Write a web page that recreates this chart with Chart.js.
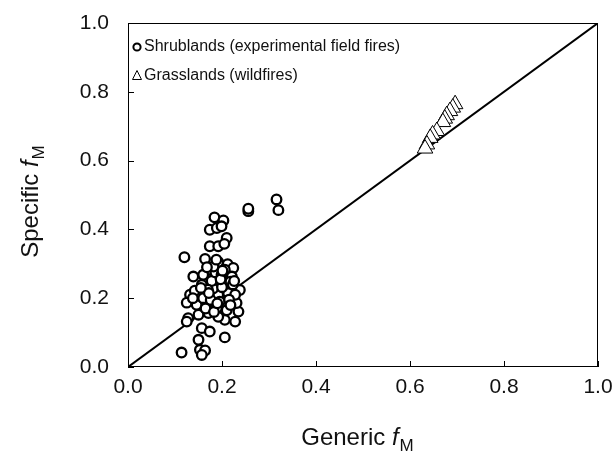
<!DOCTYPE html>
<html>
<head>
<meta charset="utf-8">
<script src="https://cdn.jsdelivr.net/npm/chart.js@4.4.1/dist/chart.umd.min.js"></script>
<style>
    html, body { margin: 0; padding: 0; background: #fff; }
    #wrap { width: 616px; height: 455px; }
</style>
</head>
<body>
<div id="wrap"><canvas id="chart" width="616" height="455"></canvas></div>
<script>
// Shrublands (experimental field fires): generic fM vs specific fM
const shrubX = [0.184, 0.203, 0.174, 0.189, 0.199, 0.210, 0.174, 0.192, 0.205, 0.120,
    0.164, 0.192, 0.212, 0.224, 0.171, 0.160, 0.139, 0.206, 0.221, 0.185,
    0.196, 0.231, 0.182, 0.157, 0.132, 0.125, 0.146, 0.171, 0.150, 0.206,
    0.235, 0.231, 0.128, 0.125, 0.228, 0.157, 0.174, 0.206, 0.150, 0.114,
    0.153, 0.164, 0.157, 0.192, 0.213, 0.167, 0.189, 0.206, 0.238, 0.181,
    0.164, 0.192, 0.146, 0.178, 0.200, 0.218, 0.170, 0.186, 0.228, 0.160,
    0.195, 0.210, 0.176, 0.142, 0.182, 0.199, 0.223, 0.188, 0.165, 0.215,
    0.172, 0.197, 0.155, 0.218, 0.183, 0.138, 0.226, 0.168, 0.201, 0.190,
    0.256, 0.256, 0.316, 0.320];
const shrubY = [0.435, 0.426, 0.399, 0.404, 0.409, 0.375, 0.351, 0.351, 0.358, 0.319,
    0.314, 0.305, 0.299, 0.288, 0.283, 0.268, 0.263, 0.283, 0.263, 0.263,
    0.239, 0.224, 0.210, 0.239, 0.210, 0.187, 0.184, 0.157, 0.152, 0.186,
    0.161, 0.186, 0.142, 0.132, 0.132, 0.113, 0.103, 0.086, 0.079, 0.042,
    0.050, 0.048, 0.035, 0.210, 0.215, 0.205, 0.171, 0.137, 0.224, 0.228,
    0.181, 0.146, 0.181, 0.250, 0.232, 0.248, 0.225, 0.275, 0.210, 0.200,
    0.190, 0.165, 0.195, 0.222, 0.292, 0.268, 0.240, 0.312, 0.170, 0.196,
    0.215, 0.255, 0.230, 0.180, 0.160, 0.200, 0.250, 0.290, 0.280, 0.185,
    0.453, 0.460, 0.487, 0.456];

// Grasslands (wildfires)
const grassX = [0.696, 0.691, 0.685, 0.678, 0.674, 0.670, 0.657, 0.648, 0.643, 0.636, 0.632];
const grassY = [0.764, 0.754, 0.744, 0.732, 0.722, 0.712, 0.686, 0.676, 0.666, 0.647, 0.635];

// 1:1 line
const lineX = [0, 1];
const lineY = [0, 1];

const axisTicks = [0, 0.2, 0.4, 0.6, 0.8, 1.0];
const legendLabels = ["Shrublands (experimental field fires)", "Grasslands (wildfires)"];

function toPoints(xs, ys) {
    return xs.map(function (x, i) { return { x: x, y: ys[i] }; });
}

const FONT = "'Liberation Sans', Arial, sans-serif";

// box, inward ticks, axis titles, legend
const decorations = {
    id: "decorations",
    afterDraw: function (chart) {
        var ctx = chart.ctx;
        var a = chart.chartArea;
        var xs = chart.scales.x;
        var ys = chart.scales.y;
        ctx.save();
        ctx.strokeStyle = "#000";
        ctx.lineWidth = 1;
        ctx.strokeRect(a.left + 0.5, a.top + 0.5, a.right - a.left - 1, a.bottom - a.top - 1);
        ctx.beginPath();
        axisTicks.forEach(function (v) {
            var px = Math.round(xs.getPixelForValue(v)) + 0.5;
            ctx.moveTo(px, a.bottom);
            ctx.lineTo(px, a.bottom - 6);
            var py = Math.round(ys.getPixelForValue(v)) + 0.5;
            ctx.moveTo(a.left, py);
            ctx.lineTo(a.left + 6, py);
        });
        ctx.stroke();

        // axis titles with italic f and subscript M
        ctx.fillStyle = "#111";
        function title(word, cx, cy) {
            ctx.font = "24px " + FONT;
            var w1 = ctx.measureText(word + " ").width;
            ctx.font = "italic 24px " + FONT;
            var w2 = ctx.measureText("f").width;
            ctx.font = "17px " + FONT;
            var w3 = ctx.measureText("M").width;
            var x0 = cx - (w1 + w2 + w3) / 2;
            ctx.textBaseline = "alphabetic";
            ctx.textAlign = "left";
            ctx.font = "24px " + FONT;
            ctx.fillText(word + " ", x0, cy);
            ctx.font = "italic 24px " + FONT;
            ctx.fillText("f", x0 + w1, cy);
            ctx.font = "17px " + FONT;
            ctx.fillText("M", x0 + w1 + w2 + 1, cy + 6);
        }
        title("Generic", (a.left + a.right) / 2 - 6, 445);
        ctx.save();
        ctx.translate(38, (a.top + a.bottom) / 2 + 7);
        ctx.rotate(-Math.PI / 2);
        title("Specific", 0, 0);
        ctx.restore();

        // legend
        ctx.font = "16px " + FONT;
        ctx.textBaseline = "middle";
        ctx.fillStyle = "#111";
        ctx.fillText(legendLabels[0], 144, 47);
        ctx.fillText(legendLabels[1], 144, 76);
        ctx.lineWidth = 2;
        ctx.beginPath();
        ctx.arc(137, 47, 3.6, 0, Math.PI * 2);
        ctx.stroke();
        ctx.lineWidth = 1;
        ctx.beginPath();
        ctx.moveTo(137, 70.5);
        ctx.lineTo(141.5, 79.5);
        ctx.lineTo(132.5, 79.5);
        ctx.closePath();
        ctx.stroke();
        ctx.restore();
    }
};

const ctx = document.getElementById("chart").getContext("2d");
const myChart = new Chart(ctx, {
    type: "scatter",
    data: {
        datasets: [
            {
                label: legendLabels[0],
                data: toPoints(shrubX, shrubY),
                pointStyle: "circle",
                pointRadius: 4.8,
                pointBorderWidth: 2.3,
                pointBackgroundColor: "#fff",
                pointBorderColor: "#000",
                order: 1,
            },
            {
                label: legendLabels[1],
                data: toPoints(grassX, grassY),
                pointStyle: "triangle",
                pointRadius: 9,
                pointBorderWidth: 1,
                pointBackgroundColor: "#fff",
                pointBorderColor: "#000",
                order: 2,
            },
            {
                type: "line",
                label: "1:1",
                data: toPoints(lineX, lineY),
                borderColor: "#000",
                borderWidth: 2,
                pointRadius: 0,
                fill: false,
                order: 3,
            },
        ],
    },
    options: {
        responsive: false,
        animation: false,
        events: [],
        layout: { padding: { top: 23, right: 18, left: 0, bottom: 0 } },
        plugins: {
            legend: { display: false },
            tooltip: { enabled: false },
        },
        scales: {
            x: {
                type: "linear",
                min: 0,
                max: 1,
                afterFit: function (scale) {
                    scale.height = 88;
                    scale.paddingLeft = 0;
                    scale.paddingRight = 0;
                },
                afterBuildTicks: function (scale) {
                    scale.ticks = axisTicks.map(function (v) { return { value: v }; });
                },
                grid: { display: false, drawTicks: false },
                border: { display: false },
                ticks: {
                    padding: 8,
                    color: "#111",
                    font: { family: FONT, size: 21 },
                    callback: function (v) { return v.toFixed(1); },
                },
            },
            y: {
                type: "linear",
                min: 0,
                max: 1,
                afterFit: function (scale) {
                    scale.width = 128;
                    scale.paddingTop = 0;
                    scale.paddingBottom = 0;
                },
                afterBuildTicks: function (scale) {
                    scale.ticks = axisTicks.map(function (v) { return { value: v }; });
                },
                grid: { display: false, drawTicks: false },
                border: { display: false },
                ticks: {
                    padding: 19,
                    color: "#111",
                    font: { family: FONT, size: 21 },
                    callback: function (v) { return v.toFixed(1); },
                },
            },
        },
    },
    plugins: [decorations],
});
</script>
</body>
</html>
